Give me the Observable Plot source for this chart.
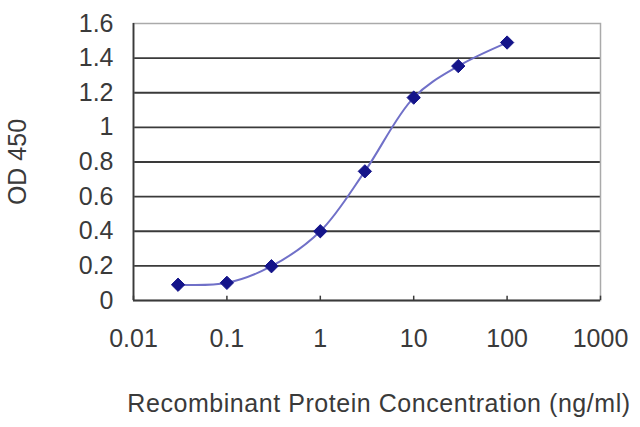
<!DOCTYPE html>
<html>
<head>
<meta charset="utf-8">
<script src="https://cdn.jsdelivr.net/npm/d3@7"></script>
<script src="https://cdn.jsdelivr.net/npm/@observablehq/plot@0.6"></script>
<style>
  html, body { margin: 0; padding: 0; background: #fff; }
  #chart svg { display: block; }
</style>
</head>
<body>
<div id="chart"></div>
<script>
const concentrations = [0.03, 0.1, 0.3, 1, 3, 10, 30, 100];
const odValues = [0.091, 0.102, 0.198, 0.40, 0.746, 1.172, 1.354, 1.49];
const xTicks = [0.01, 0.1, 1, 10, 100, 1000];
const xTickLabels = ["0.01", "0.1", "1", "10", "100", "1000"];
const yTicks = [0, 0.2, 0.4, 0.6, 0.8, 1, 1.2, 1.4, 1.6];
const yTickLabels = ["0", "0.2", "0.4", "0.6", "0.8", "1", "1.2", "1.4", "1.6"];
const xTitle = "Recombinant Protein Concentration (ng/ml)";
const yTitle = "OD 450";

const data = concentrations.map((c, i) => ({c, od: odValues[i]}));
const xTickData = xTicks.map((v, i) => ({v, label: xTickLabels[i]}));

const chart = Plot.plot({
  width: 640,
  height: 427,
  marginLeft: 133,
  marginRight: 40,
  marginTop: 23,
  marginBottom: 127,
  style: {fontFamily: "Liberation Sans, Arial, sans-serif", fontSize: "25px", color: "#3a3a3a", background: "#fff"},
  x: {type: "log", domain: [0.01, 1000], axis: null},
  y: {domain: [0, 1.6]},
  marks: [
    Plot.ruleY(yTicks.slice(1, -1), {stroke: "#3a3a3a", strokeWidth: 1.8}),
    Plot.frame({stroke: "#aaa", strokeWidth: 1.5}),
    Plot.ruleY([0], {stroke: "#3a3a3a", strokeWidth: 1.8}),
    Plot.ruleX([0.01], {stroke: "#3a3a3a", strokeWidth: 1.8}),
    Plot.ruleX(xTicks, {y1: 0, y2: 0.025, stroke: "#3a3a3a", strokeWidth: 1.5}),
    Plot.text(xTickData, {x: "v", text: "label", frameAnchor: "bottom", lineAnchor: "top", dy: 29, fill: "#3a3a3a", fontSize: 25}),
    Plot.axisY({ticks: yTicks, tickFormat: (d, i) => yTickLabels[i], tickSize: 0, tickPadding: 20, label: yTitle, labelAnchor: "center", labelArrow: "none", labelOffset: 125, fill: "#3a3a3a"}),
    Plot.line(data, {x: "c", y: "od", curve: "catmull-rom", stroke: "#7070c8", strokeWidth: 2}),
    Plot.dot(data, {x: "c", y: "od", symbol: "diamond2", r: 6, fill: "#14148a", stroke: "#14148a", strokeWidth: 1}),
    Plot.text([xTitle], {frameAnchor: "bottom", dx: 12, dy: 111, fill: "#3a3a3a", fontSize: 25})
  ]
});
d3.select(chart).selectAll("text").filter(function() { return this.textContent === xTitle; }).attr("letter-spacing", "0.55px");
document.getElementById("chart").appendChild(chart);
</script>
</body>
</html>
